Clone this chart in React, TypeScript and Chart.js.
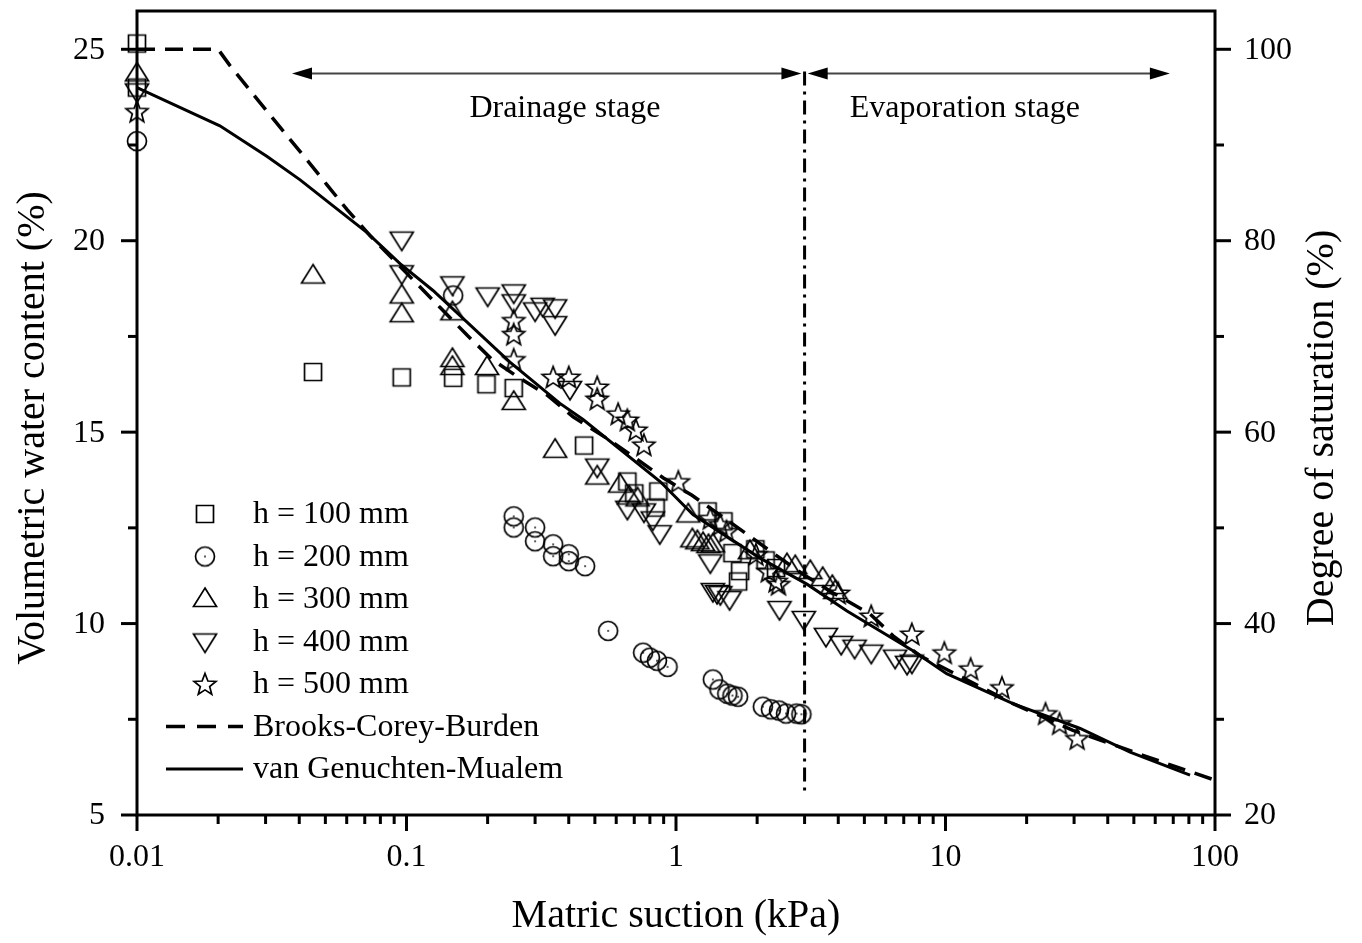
import { useEffect, useRef } from 'react';
import { Chart, registerables } from 'chart.js';

Chart.register(...registerables);

const SERIF = '"Liberation Serif", "Times New Roman", Times, serif';

// ---- measured series (x: matric suction kPa, y: volumetric water content %) ----
const H100_X = [0.01, 0.01, 0.045, 0.096, 0.149, 0.198, 0.25, 0.456, 0.66, 0.70, 0.84, 0.86, 1.31, 1.50, 1.62, 1.70, 1.73, 1.97, 2.15, 2.35];
const H100_Y = [25.15, 24.0, 16.57, 16.43, 16.42, 16.25, 16.15, 14.65, 13.71, 13.40, 13.03, 13.45, 12.93, 12.67, 11.84, 11.10, 11.37, 11.94, 11.65, 11.45];

const H200_X = [0.01, 0.149, 0.25, 0.25, 0.30, 0.30, 0.35, 0.35, 0.40, 0.40, 0.46, 0.56, 0.755, 0.80, 0.85, 0.93, 1.37, 1.45, 1.55, 1.62, 1.70, 2.10, 2.25, 2.41, 2.56, 2.80, 2.92];
const H200_Y = [22.6, 18.57, 12.80, 12.51, 12.51, 12.15, 12.07, 11.76, 11.81, 11.63, 11.50, 9.81, 9.24, 9.11, 9.03, 8.87, 8.54, 8.28, 8.17, 8.12, 8.09, 7.83, 7.76, 7.73, 7.65, 7.65, 7.63];

const H300_X = [0.01, 0.045, 0.096, 0.096, 0.148, 0.148, 0.148, 0.199, 0.25, 0.356, 0.51, 0.62, 0.67, 0.72, 1.11, 1.15, 1.20, 1.26, 1.32, 1.37, 1.88, 2.58, 2.77, 3.15, 3.5, 3.8, 3.9];
const H300_Y = [24.37, 19.09, 18.57, 18.08, 18.13, 16.91, 16.7, 16.7, 15.79, 14.54, 13.84, 13.63, 13.32, 13.27, 12.85, 12.2, 12.15, 12.1, 12.05, 12.07, 11.89, 11.55, 11.5, 11.37, 11.19, 10.98, 10.85];

const H400_X = [0.01, 0.096, 0.096, 0.148, 0.20, 0.25, 0.25, 0.30, 0.32, 0.356, 0.356, 0.404, 0.51, 0.66, 0.76, 0.82, 0.87, 1.34, 1.37, 1.42, 1.46, 1.58, 2.42, 2.98, 3.6, 4.1, 4.6, 5.3, 6.5, 7.2, 7.5];
const H400_Y = [23.9, 20.03, 19.15, 18.86, 18.57, 18.65, 18.39, 18.18, 18.3, 18.26, 17.82, 16.13, 14.1, 13.0, 12.93, 12.72, 12.36, 11.6, 10.85, 10.8, 10.77, 10.64, 10.38, 10.12, 9.68, 9.47, 9.37, 9.24, 9.11, 8.95, 8.98];

const H500_X = [0.01, 0.25, 0.25, 0.25, 0.35, 0.40, 0.51, 0.51, 0.61, 0.66, 0.71, 0.76, 1.02, 1.34, 1.46, 1.54, 1.98, 2.2, 2.35, 2.4, 4.0, 5.3, 7.5, 9.9, 12.4, 16.2, 23.5, 26.5, 30.8];
const H500_Y = [23.38, 17.92, 17.56, 16.9, 16.44, 16.44, 16.18, 15.87, 15.48, 15.32, 15.06, 14.67, 13.71, 12.75, 12.59, 12.41, 11.81, 11.37, 11.11, 11.03, 10.8, 10.2, 9.73, 9.24, 8.82, 8.33, 7.65, 7.39, 7.0];

// ---- fitted curves ----
const BC_X = [0.01, 0.02, 0.0221, 0.0281, 0.0354, 0.0427, 0.0507, 0.0602, 0.0733, 0.133, 0.168, 0.207, 0.259, 0.332, 0.415, 0.55, 0.704, 0.895, 1.146, 1.48, 1.88, 2.29, 2.96, 3.83, 5.25, 6.39, 8.04, 17.8, 29.7, 40.7, 54.0, 72.3, 100];
const BC_Y = [25.0, 25.0, 24.58, 23.67, 22.81, 22.11, 21.46, 20.81, 20.13, 18.26, 17.53, 16.91, 16.44, 15.97, 15.40, 14.85, 14.33, 13.81, 13.35, 12.80, 12.28, 11.84, 11.29, 10.80, 10.25, 9.68, 9.16, 7.91, 7.21, 6.87, 6.56, 6.25, 5.91];

const VG_X = [0.01, 0.0203, 0.0304, 0.0403, 0.0534, 0.0714, 0.0946, 0.1254, 0.242, 0.371, 0.452, 0.873, 1.156, 2.05, 3.06, 4.31, 7.57, 10.1, 17.8, 31.6, 48.4, 80.8];
const VG_Y = [24.0, 23.0, 22.2, 21.59, 20.91, 20.21, 19.4, 18.7, 16.83, 15.75, 15.33, 13.71, 12.85, 11.71, 11.03, 10.33, 9.29, 8.69, 7.91, 7.26, 6.64, 6.04];

// stage divider (dash-dot)
const DIVIDER_X = [3, 3];
const DIVIDER_Y = [24.42, 5.52];

// ---- axes / labels ----
const X_TICKS = [0.01, 0.1, 1, 10, 100];
const X_TICK_LABELS = ['0.01', '0.1', '1', '10', '100'];
const Y_TICKS = [5, 10, 15, 20, 25];
const Y_MINOR = [7.5, 12.5, 17.5, 22.5];
const Y2_TICKS = [20, 40, 60, 80, 100];
const Y2_MINOR = [30, 50, 70, 90];
const X_TITLE = 'Matric suction (kPa)';
const Y_TITLE = 'Volumetric water content (%)';
const Y2_TITLE = 'Degree of saturation (%)';
const SERIES_LABELS = ['h = 100 mm', 'h = 200 mm', 'h = 300 mm', 'h = 400 mm', 'h = 500 mm'];
const CURVE_LABELS = ['Brooks-Corey-Burden', 'van Genuchten-Mualem'];
const STAGE_LABELS = ['Drainage stage', 'Evaporation stage'];

const pts = (xs: number[], ys: number[]) => xs.map((x, i) => ({ x, y: ys[i] }));

function makeMarker(kind: string): HTMLCanvasElement {
  const c = document.createElement('canvas');
  c.width = 32;
  c.height = 32;
  const g = c.getContext('2d')!;
  const cx = 16, cy = 16;
  g.strokeStyle = '#000';
  g.lineWidth = 1.7;
  g.beginPath();
  if (kind === 'square') {
    g.rect(cx - 8.5, cy - 8.5, 17, 17);
  } else if (kind === 'circle') {
    g.arc(cx, cy, 9.5, 0, Math.PI * 2);
  } else if (kind === 'up') {
    g.moveTo(cx, cy - 11);
    g.lineTo(cx + 11.5, cy + 7.5);
    g.lineTo(cx - 11.5, cy + 7.5);
    g.closePath();
  } else if (kind === 'down') {
    g.moveTo(cx, cy + 11);
    g.lineTo(cx + 11.5, cy - 7.5);
    g.lineTo(cx - 11.5, cy - 7.5);
    g.closePath();
  } else {
    for (let i = 0; i < 10; i++) {
      const r = i % 2 ? 4.9 : 11.5;
      const a = -Math.PI / 2 + (i * Math.PI) / 5;
      const px = cx + r * Math.cos(a);
      const py = cy + 1 + r * Math.sin(a);
      if (i === 0) g.moveTo(px, py);
      else g.lineTo(px, py);
    }
    g.closePath();
  }
  g.stroke();
  if (kind === 'circle') {
    g.fillStyle = '#000';
    g.fillRect(cx - 0.8, cy - 0.8, 1.6, 1.6);
  }
  return c;
}

export default function App() {
  const ref = useRef<HTMLCanvasElement>(null);

  useEffect(() => {
    const kinds = ['square', 'circle', 'up', 'down', 'star'];
    const markers = kinds.map(makeMarker);
    const seriesX = [H100_X, H200_X, H300_X, H400_X, H500_X];
    const seriesY = [H100_Y, H200_Y, H300_Y, H400_Y, H500_Y];

    const decor = {
      id: 'decor',
      afterDatasetsDraw(chart: any) {
        const { ctx, chartArea: a, scales } = chart;
        const xs = scales.x, ys = scales.y, y2 = scales.y2;
        ctx.save();
        ctx.strokeStyle = '#000';
        ctx.fillStyle = '#000';
        // frame
        ctx.lineWidth = 3;
        ctx.setLineDash([]);
        ctx.strokeRect(a.left, a.top, a.right - a.left, a.bottom - a.top);
        const seg = (x1: number, y1: number, x2: number, yy2: number) => {
          ctx.beginPath();
          ctx.moveTo(x1, y1);
          ctx.lineTo(x2, yy2);
          ctx.stroke();
        };
        // ticks
        ctx.lineWidth = 3;
        X_TICKS.forEach((v) => {
          const p = xs.getPixelForValue(v);
          seg(p, a.bottom, p, a.bottom + 16);
        });
        for (let d = -2; d <= 1; d++) {
          for (let m = 2; m <= 9; m++) {
            const p = xs.getPixelForValue(m * Math.pow(10, d));
            seg(p, a.bottom, p, a.bottom + 9);
          }
        }
        Y_TICKS.forEach((v) => {
          const p = ys.getPixelForValue(v);
          seg(a.left, p, a.left - 16, p);
        });
        Y_MINOR.forEach((v) => {
          const p = ys.getPixelForValue(v);
          seg(a.left, p, a.left - 9, p);
        });
        Y2_TICKS.forEach((v) => {
          const p = y2.getPixelForValue(v);
          seg(a.right, p, a.right + 16, p);
        });
        Y2_MINOR.forEach((v) => {
          const p = y2.getPixelForValue(v);
          seg(a.right, p, a.right + 9, p);
        });
        // tick labels
        ctx.font = `32px ${SERIF}`;
        ctx.textBaseline = 'middle';
        ctx.textAlign = 'center';
        X_TICKS.forEach((v, i) => ctx.fillText(X_TICK_LABELS[i], xs.getPixelForValue(v), a.bottom + 43));
        ctx.textAlign = 'right';
        Y_TICKS.forEach((v) => ctx.fillText(String(v), a.left - 32, ys.getPixelForValue(v) + 1));
        ctx.textAlign = 'left';
        Y2_TICKS.forEach((v) => ctx.fillText(String(v), a.right + 29, y2.getPixelForValue(v) + 1));
        // axis titles
        ctx.font = `40px ${SERIF}`;
        ctx.textAlign = 'center';
        ctx.fillText(X_TITLE, (a.left + a.right) / 2, a.bottom + 101);
        ctx.save();
        ctx.translate(33, 428);
        ctx.rotate(-Math.PI / 2);
        ctx.fillText(Y_TITLE, 0, 0);
        ctx.restore();
        ctx.save();
        ctx.translate(a.right + 107, 428);
        ctx.rotate(-Math.PI / 2);
        ctx.fillText(Y2_TITLE, 0, 0);
        ctx.restore();
        // stage arrows
        const ay = ys.getPixelForValue(24.37);
        const arrow = (v1: number, v2: number) => {
          const p1 = xs.getPixelForValue(v1);
          const p2 = xs.getPixelForValue(v2);
          ctx.strokeStyle = '#444';
          ctx.lineWidth = 2;
          seg(p1 + 10, ay, p2 - 10, ay);
          ctx.fillStyle = '#000';
          ctx.beginPath();
          ctx.moveTo(p1, ay);
          ctx.lineTo(p1 + 20, ay - 6);
          ctx.lineTo(p1 + 20, ay + 6);
          ctx.closePath();
          ctx.fill();
          ctx.beginPath();
          ctx.moveTo(p2, ay);
          ctx.lineTo(p2 - 20, ay - 6);
          ctx.lineTo(p2 - 20, ay + 6);
          ctx.closePath();
          ctx.fill();
        };
        arrow(0.0376, 2.92);
        arrow(3.08, 68);
        ctx.fillStyle = '#000';
        ctx.font = `32px ${SERIF}`;
        ctx.textAlign = 'center';
        const ly = ys.getPixelForValue(23.45);
        ctx.fillText(STAGE_LABELS[0], xs.getPixelForValue(0.387), ly);
        ctx.fillText(STAGE_LABELS[1], xs.getPixelForValue(11.8), ly);
        // legend
        const lx = a.left + 68;
        const tx = a.left + 116;
        const rowY = (i: number) => 514 + i * 42.5;
        ctx.textAlign = 'left';
        SERIES_LABELS.forEach((lab, i) => {
          const m = markers[i];
          ctx.drawImage(m, lx - m.width / 2, rowY(i) - m.height / 2);
          ctx.fillText(lab, tx, rowY(i) + 1);
        });
        ctx.strokeStyle = '#000';
        ctx.lineWidth = 3.5;
        ctx.setLineDash([19, 12]);
        seg(a.left + 29, rowY(5), a.left + 106, rowY(5));
        ctx.setLineDash([]);
        ctx.lineWidth = 3;
        seg(a.left + 29, rowY(6), a.left + 106, rowY(6));
        ctx.fillText(CURVE_LABELS[0], tx, rowY(5) + 1);
        ctx.fillText(CURVE_LABELS[1], tx, rowY(6) + 1);
        ctx.restore();
      },
    };

    const scatterSets = seriesX.map((xsArr, i) => ({
      label: SERIES_LABELS[i],
      data: pts(xsArr, seriesY[i]),
      pointStyle: markers[i],
      pointRadius: 10,
      showLine: false,
      clip: false as any,
    }));

    const chart = new Chart(ref.current!, {
      type: 'scatter',
      data: {
        datasets: [
          ...scatterSets,
          {
            label: CURVE_LABELS[0],
            data: pts(BC_X, BC_Y),
            showLine: true,
            pointRadius: 0,
            borderColor: '#000',
            borderWidth: 3.5,
            borderDash: [18, 10],
            tension: 0,
          },
          {
            label: CURVE_LABELS[1],
            data: pts(VG_X, VG_Y),
            showLine: true,
            pointRadius: 0,
            borderColor: '#000',
            borderWidth: 3,
            tension: 0,
          },
          {
            label: 'divider',
            data: pts(DIVIDER_X, DIVIDER_Y),
            showLine: true,
            pointRadius: 0,
            borderColor: '#000',
            borderWidth: 3,
            borderDash: [14, 6, 3, 6],
          },
        ] as any,
      },
      options: {
        responsive: false,
        devicePixelRatio: 1,
        animation: false,
        events: [],
        layout: { padding: { top: 9, left: 0, right: 0, bottom: 0 } },
        plugins: { legend: { display: false }, tooltip: { enabled: false } },
        scales: {
          x: {
            type: 'logarithmic',
            position: 'bottom',
            min: 0.01,
            max: 100,
            grid: { display: false, drawTicks: false },
            border: { display: false },
            ticks: { display: false },
            afterFit(s: any) {
              s.height = 128;
            },
          },
          y: {
            type: 'linear',
            position: 'left',
            min: 5,
            max: 26,
            grid: { display: false, drawTicks: false },
            border: { display: false },
            ticks: { display: false },
            afterFit(s: any) {
              s.width = 137;
            },
          },
          y2: {
            type: 'linear',
            position: 'right',
            min: 20,
            max: 104,
            grid: { display: false, drawTicks: false },
            border: { display: false },
            ticks: { display: false },
            afterFit(s: any) {
              s.width = 147;
            },
          },
        } as any,
      },
      plugins: [decor],
    });
    return () => chart.destroy();
  }, []);

  return (
    <div style={{ position: 'fixed', left: 0, top: 0, width: 1362, height: 943, background: '#fff' }}>
      <canvas ref={ref} width={1362} height={943} style={{ display: 'block', width: 1362, height: 943 }} />
    </div>
  );
}
